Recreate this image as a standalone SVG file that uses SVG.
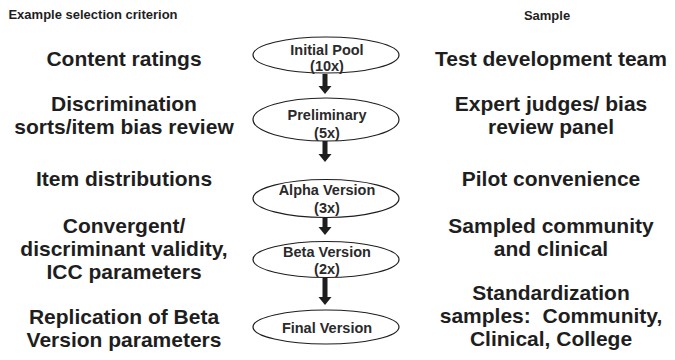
<svg xmlns="http://www.w3.org/2000/svg" width="675" height="360" viewBox="0 0 675 360">
<defs>
<style>
.hdr{font-family:"Liberation Sans",Arial,sans-serif;font-weight:bold;font-size:13px;fill:#1e1e1e;text-anchor:middle}
.big{font-family:"Liberation Sans",Arial,sans-serif;font-weight:bold;font-size:21px;fill:#1e1e1e;text-anchor:middle}
.node ellipse{fill:#fff;stroke:#1e1e1e;stroke-width:1.2}
.node text{font-family:"Liberation Sans",Arial,sans-serif;font-weight:bold;font-size:14.5px;fill:#2a2a2a;text-anchor:middle}
.arr{fill:#1e1e1e;stroke:none}
</style>
</defs>
<rect width="675" height="360" fill="#fff"/>
<text class="hdr" x="93" y="19">Example selection criterion</text>
<text class="hdr" x="547" y="20">Sample</text>

<g id="criteria">
<text class="big" x="124" y="66">Content ratings</text>
<text class="big" x="124" y="111">Discrimination</text>
<text class="big" x="124" y="134">sorts/item bias review</text>
<text class="big" x="124" y="186">Item distributions</text>
<text class="big" x="124" y="233">Convergent/</text>
<text class="big" x="124" y="256">discriminant validity,</text>
<text class="big" x="124" y="279">ICC parameters</text>
<text class="big" x="124" y="324">Replication of Beta</text>
<text class="big" x="124" y="347">Version parameters</text>
</g>

<g id="samples">
<text class="big" x="551" y="66">Test development team</text>
<text class="big" x="551" y="111">Expert judges/ bias</text>
<text class="big" x="551" y="134">review panel</text>
<text class="big" x="551" y="186">Pilot convenience</text>
<text class="big" x="551" y="233">Sampled community</text>
<text class="big" x="551" y="256">and clinical</text>
<text class="big" x="551" y="300">Standardization</text>
<text class="big" x="551" y="323" xml:space="preserve">samples:  Community,</text>
<text class="big" x="551" y="346">Clinical, College</text>
</g>

<g id="node-initial" class="node">
<ellipse cx="326" cy="55" rx="73" ry="18"/>
<text x="327" y="55">Initial Pool</text>
<text x="327" y="71">(10x)</text>
</g>
<g id="node-preliminary" class="node">
<ellipse cx="326" cy="119.5" rx="73" ry="21.5"/>
<text x="327" y="120">Preliminary</text>
<text x="327" y="138">(5x)</text>
</g>
<g id="node-alpha" class="node">
<ellipse cx="326" cy="198.5" rx="73" ry="19"/>
<text x="327" y="195">Alpha Version</text>
<text x="327" y="213">(3x)</text>
</g>
<g id="node-beta" class="node">
<ellipse cx="326" cy="259.5" rx="73" ry="18"/>
<text x="327" y="257">Beta Version</text>
<text x="327" y="274">(2x)</text>
</g>
<g id="node-final" class="node">
<ellipse cx="326" cy="327" rx="73" ry="17"/>
<text x="327" y="333">Final Version</text>
</g>

<g id="connectors">
<path class="arr" d="M322.5,74 h5 v12 h4 l-6.5,8 l-6.5,-8 h4 z"/>
<path class="arr" d="M322.5,141 h5 v13 h4 l-6.5,8 l-6.5,-8 h4 z"/>
<path class="arr" d="M322.5,218 h5 v9 h4 l-6.5,8 l-6.5,-8 h4 z"/>
<path class="arr" d="M322.5,278 h5 v19 h4 l-6.5,8 l-6.5,-8 h4 z"/>
</g>
</svg>
